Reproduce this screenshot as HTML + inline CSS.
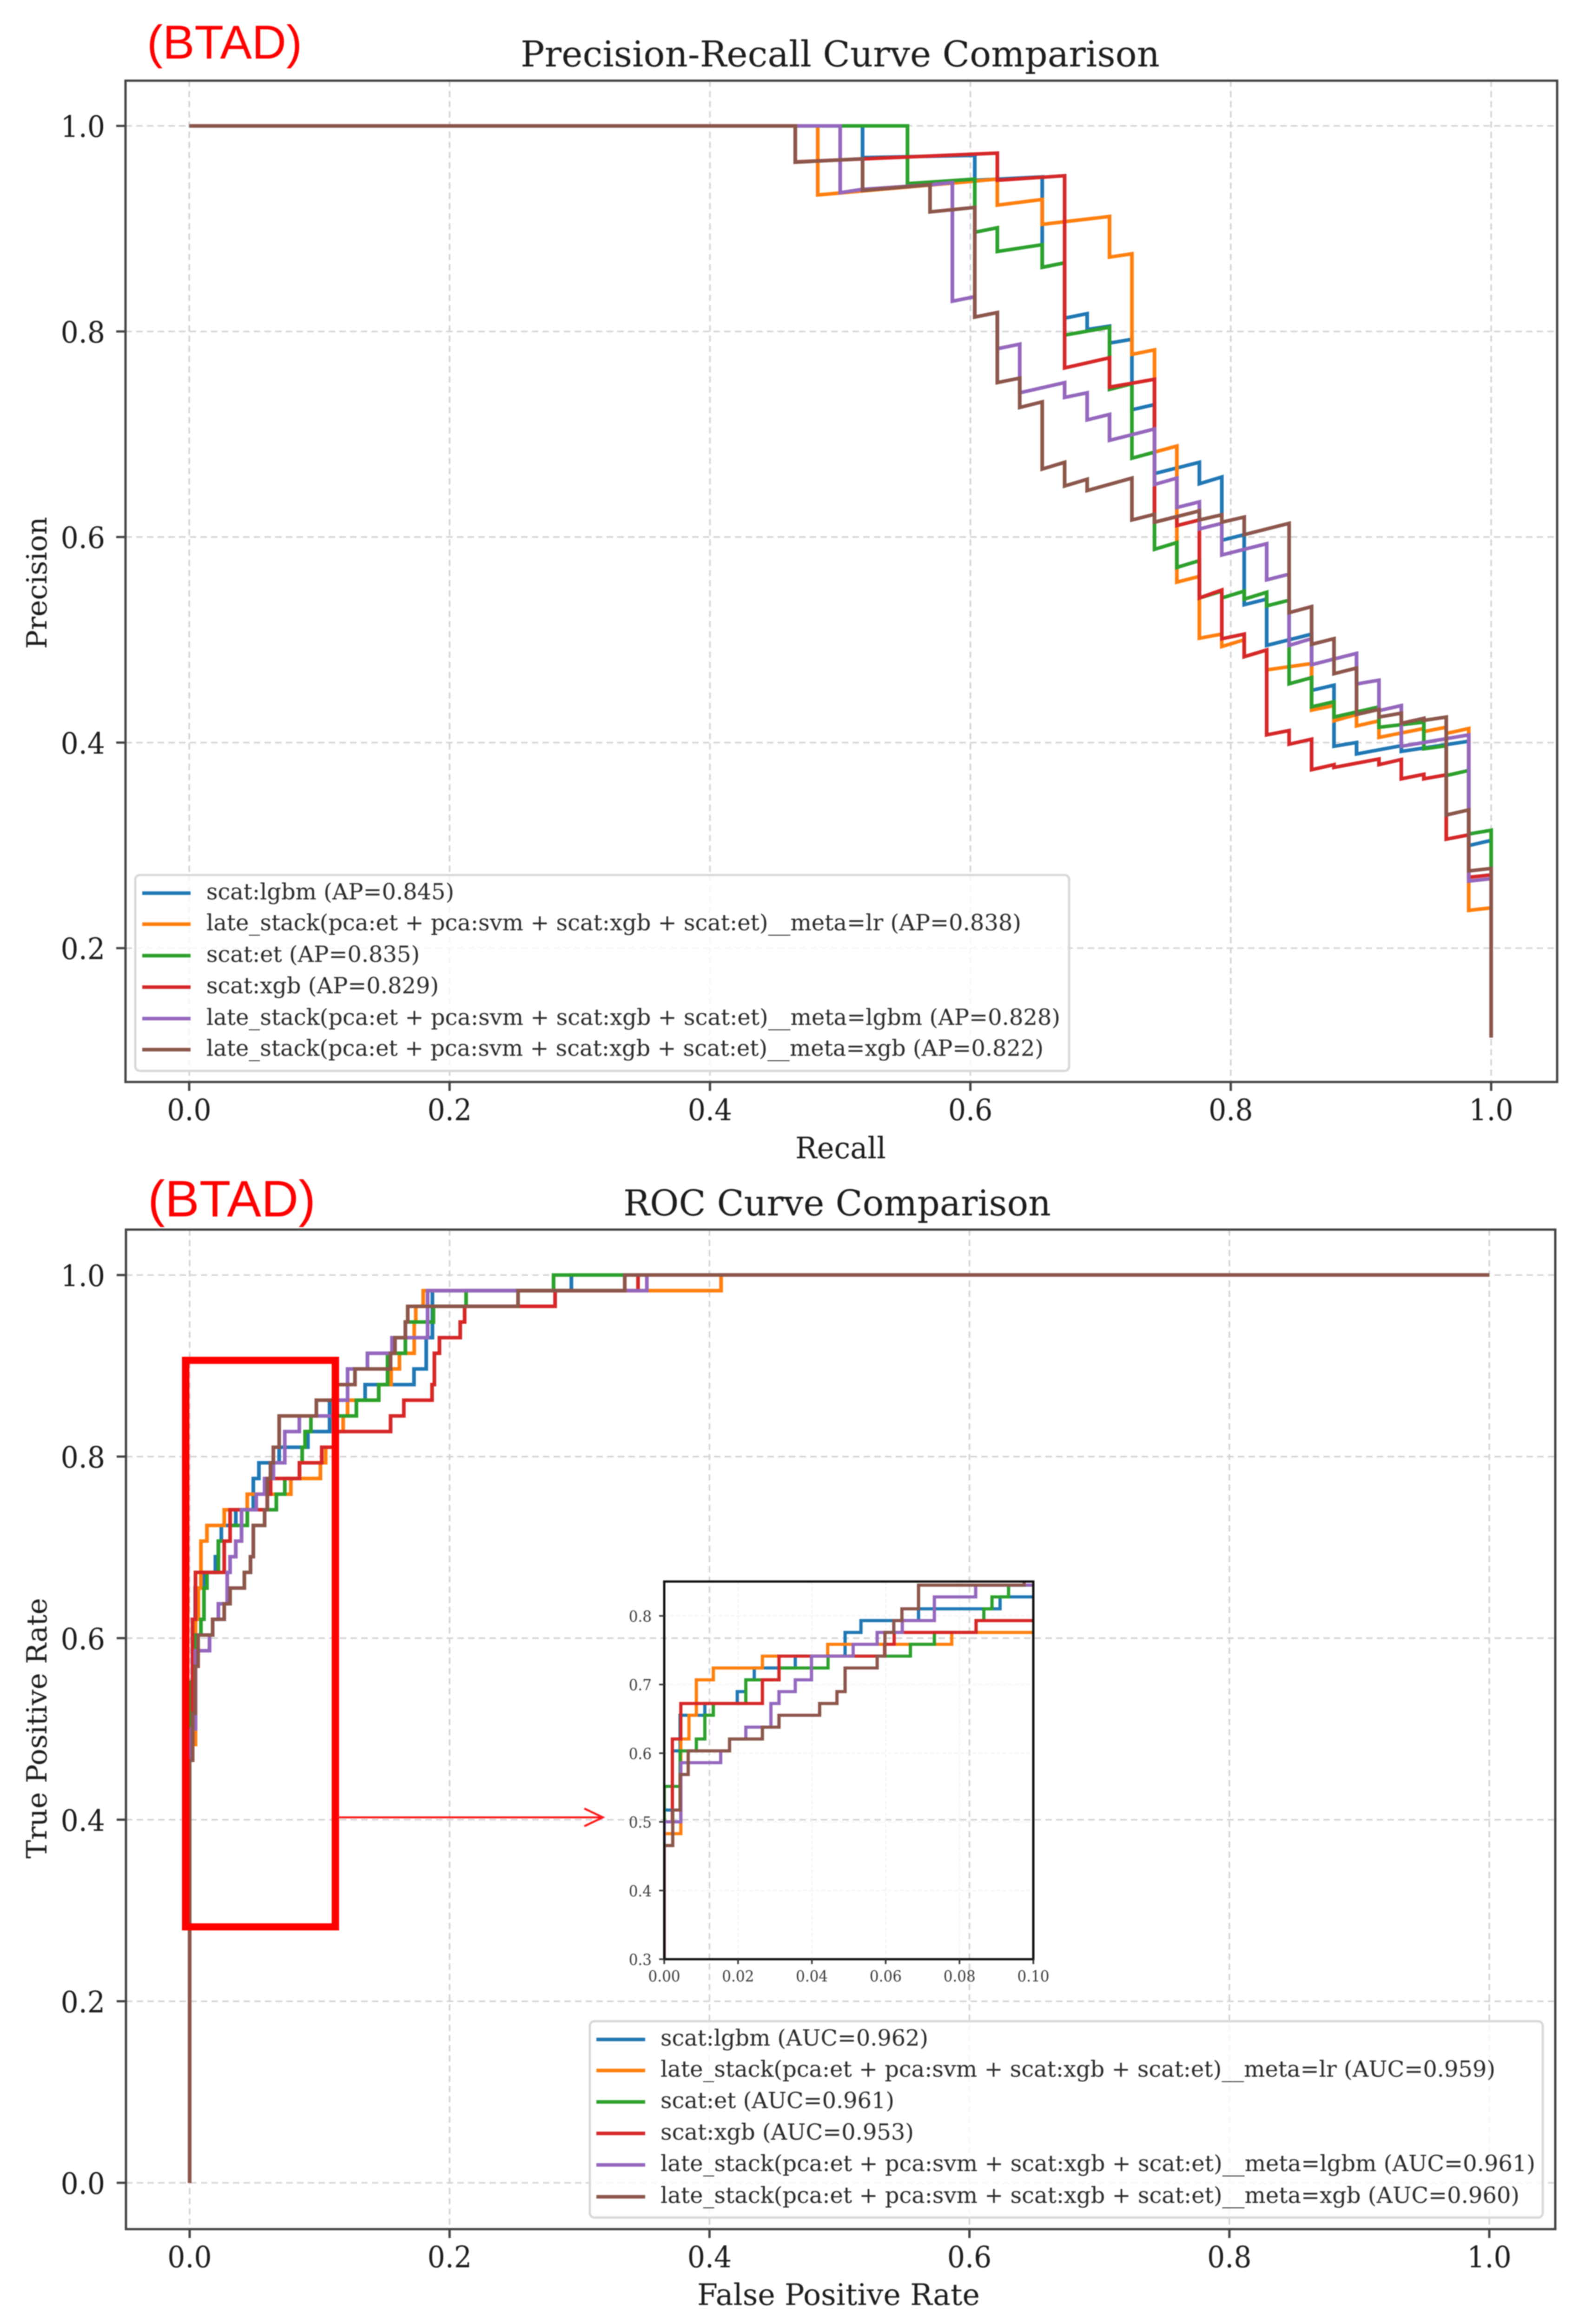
<!DOCTYPE html>
<html lang="en">
<head>
<meta charset="utf-8">
<title>BTAD Precision-Recall and ROC Curve Comparison</title>
<style>
html,body{margin:0;padding:0;background:#fff;width:100vw;height:100vh;overflow:hidden;}
#frame{position:relative;width:100vw;height:100vh;overflow:hidden;contain:paint;}
svg{display:block;position:absolute;left:0;top:0;width:100%;height:100%;overflow:hidden;}
#content{filter:blur(1.1px);}
.serif{font-family:"DejaVu Serif","Liberation Serif",serif;fill:#1c1c1c;}
.leg{font-size:45px;fill:#2a2a2a;}
.ttl{font-size:72px;}
.axl{font-size:60px;}
.btad{font-family:"Liberation Sans",Arial,sans-serif;fill:#ff0000;}
</style>
</head>
<body>
<div id="frame">
<svg id="figure" xmlns="http://www.w3.org/2000/svg" viewBox="0 0 3397 5243" preserveAspectRatio="none">
  <rect x="0" y="0" width="3397" height="5243" fill="#ffffff"/>
  <defs>
    <clipPath id="prClip"><rect x="270" y="182" width="3080" height="2259"/></clipPath>
    <clipPath id="rocClip"><rect x="271" y="2774" width="3075" height="2255"/></clipPath>
    <clipPath id="insetClip"><rect x="1429" y="3568" width="794" height="852"/></clipPath>
  </defs>
  <g id="content">

  <!-- Precision-Recall panel -->
  <text class="btad" font-size="100" textLength="334" lengthAdjust="spacingAndGlyphs" transform="translate(316 132) scale(1 1.07)">(BTAD)</text>
  <text class="serif ttl" textLength="1375" lengthAdjust="spacingAndGlyphs" transform="translate(1120 150) scale(1 1.12)">Precision-Recall Curve Comparison</text>
  <g id="prGrid"></g>
  <g id="prLines" clip-path="url(#prClip)"></g>
  <g>
    <rect x="291" y="1974" width="2009" height="442" rx="10" fill="#ffffff" fill-opacity="0.8" stroke="#d8d8d8" stroke-width="5"/>
    <g><line x1="306" x2="410" y1="2015" y2="2015" stroke="#1f77b4" stroke-width="8"/><text class="serif leg" textLength="533" lengthAdjust="spacingAndGlyphs" transform="translate(444 2029) scale(1 1.12)">scat:lgbm (AP=0.845)</text></g>
    <g><line x1="306" x2="410" y1="2085" y2="2085" stroke="#ff7f0e" stroke-width="8"/><text class="serif leg" textLength="1753" lengthAdjust="spacingAndGlyphs" transform="translate(444 2099) scale(1 1.12)">late_stack(pca:et + pca:svm + scat:xgb + scat:et)__meta=lr (AP=0.838)</text></g>
    <g><line x1="306" x2="410" y1="2156" y2="2156" stroke="#2ca02c" stroke-width="8"/><text class="serif leg" textLength="459" lengthAdjust="spacingAndGlyphs" transform="translate(444 2170) scale(1 1.12)">scat:et (AP=0.835)</text></g>
    <g><line x1="306" x2="410" y1="2227" y2="2227" stroke="#d62728" stroke-width="8"/><text class="serif leg" textLength="500" lengthAdjust="spacingAndGlyphs" transform="translate(444 2241) scale(1 1.12)">scat:xgb (AP=0.829)</text></g>
    <g><line x1="306" x2="410" y1="2298" y2="2298" stroke="#9467bd" stroke-width="8"/><text class="serif leg" textLength="1837" lengthAdjust="spacingAndGlyphs" transform="translate(444 2312) scale(1 1.12)">late_stack(pca:et + pca:svm + scat:xgb + scat:et)__meta=lgbm (AP=0.828)</text></g>
    <g><line x1="306" x2="410" y1="2368" y2="2368" stroke="#8c564b" stroke-width="8"/><text class="serif leg" textLength="1801" lengthAdjust="spacingAndGlyphs" transform="translate(444 2382) scale(1 1.12)">late_stack(pca:et + pca:svm + scat:xgb + scat:et)__meta=xgb (AP=0.822)</text></g>
  </g>
  <rect x="270" y="182" width="3080" height="2259" fill="none" stroke="#444444" stroke-width="5"/>
  <g id="prTicks"></g>
  <text class="serif axl" textLength="195" lengthAdjust="spacingAndGlyphs" transform="translate(1711 2613) scale(1 1.12)">Recall</text>
  <text class="serif axl" textLength="298" lengthAdjust="spacingAndGlyphs" transform="translate(100 1464) rotate(-90)">Precision</text>

  <!-- ROC panel -->
  <text class="btad" font-size="108" textLength="361" lengthAdjust="spacingAndGlyphs" transform="translate(318 2744) scale(1 1.07)">(BTAD)</text>
  <text class="serif ttl" textLength="920" lengthAdjust="spacingAndGlyphs" transform="translate(1341 2742) scale(1 1.12)">ROC Curve Comparison</text>
  <g id="rocGrid"></g>
  <g id="rocLines" clip-path="url(#rocClip)"></g>
  <rect x="399.5" y="3069" width="322" height="1278" fill="none" stroke="#ff0000" stroke-width="16"/>
  <g>
    <line x1="726" y1="4100" x2="1297" y2="4100" stroke="#ff1a1a" stroke-width="4.5"/>
    <polyline points="1257,4080 1297,4100 1257,4120" fill="none" stroke="#ff1a1a" stroke-width="4.5"/>
  </g>
  <g id="insetGrid"></g>
  <g id="insetLines" clip-path="url(#insetClip)"></g>
  <rect x="1429" y="3568" width="794" height="852" fill="none" stroke="#111111" stroke-width="5"/>
  <g id="insetTicks"></g>
  <g>
    <rect x="1269" y="4560" width="2050" height="443" rx="10" fill="#ffffff" fill-opacity="0.8" stroke="#d8d8d8" stroke-width="5"/>
    <g><line x1="1283" x2="1388" y1="4601" y2="4601" stroke="#1f77b4" stroke-width="8"/><text class="serif leg" textLength="576" lengthAdjust="spacingAndGlyphs" transform="translate(1421 4615) scale(1 1.12)">scat:lgbm (AUC=0.962)</text></g>
    <g><line x1="1283" x2="1388" y1="4671" y2="4671" stroke="#ff7f0e" stroke-width="8"/><text class="serif leg" textLength="1796" lengthAdjust="spacingAndGlyphs" transform="translate(1421 4685) scale(1 1.12)">late_stack(pca:et + pca:svm + scat:xgb + scat:et)__meta=lr (AUC=0.959)</text></g>
    <g><line x1="1283" x2="1388" y1="4742" y2="4742" stroke="#2ca02c" stroke-width="8"/><text class="serif leg" textLength="503" lengthAdjust="spacingAndGlyphs" transform="translate(1421 4756) scale(1 1.12)">scat:et (AUC=0.961)</text></g>
    <g><line x1="1283" x2="1388" y1="4813" y2="4813" stroke="#d62728" stroke-width="8"/><text class="serif leg" textLength="545" lengthAdjust="spacingAndGlyphs" transform="translate(1421 4827) scale(1 1.12)">scat:xgb (AUC=0.953)</text></g>
    <g><line x1="1283" x2="1388" y1="4884" y2="4884" stroke="#9467bd" stroke-width="8"/><text class="serif leg" textLength="1882" lengthAdjust="spacingAndGlyphs" transform="translate(1421 4898) scale(1 1.12)">late_stack(pca:et + pca:svm + scat:xgb + scat:et)__meta=lgbm (AUC=0.961)</text></g>
    <g><line x1="1283" x2="1388" y1="4956" y2="4956" stroke="#8c564b" stroke-width="8"/><text class="serif leg" textLength="1848" lengthAdjust="spacingAndGlyphs" transform="translate(1421 4970) scale(1 1.12)">late_stack(pca:et + pca:svm + scat:xgb + scat:et)__meta=xgb (AUC=0.960)</text></g>
  </g>
  <rect x="271" y="2774" width="3075" height="2255" fill="none" stroke="#444444" stroke-width="5"/>
  <g id="rocTicks"></g>
  <text class="serif axl" textLength="608" lengthAdjust="spacingAndGlyphs" transform="translate(1500 5200) scale(1 1.12)">False Positive Rate</text>
  <text class="serif axl" textLength="588" lengthAdjust="spacingAndGlyphs" transform="translate(100 4193) rotate(-90)">True Positive Rate</text>
  </g>
</svg>
</div>

<script>
// ---------- Tick values and labels ----------
const unitTicks = [0, 0.2, 0.4, 0.6, 0.8, 1];
const unitTickLabels = ['0.0', '0.2', '0.4', '0.6', '0.8', '1.0'];
const prYTicks = [0.2, 0.4, 0.6, 0.8, 1];
const prYTickLabels = ['0.2', '0.4', '0.6', '0.8', '1.0'];
const insetXTicks = [0, 0.02, 0.04, 0.06, 0.08, 0.1];
const insetXTickLabels = ['0.00', '0.02', '0.04', '0.06', '0.08', '0.10'];
const insetYTicks = [0.3, 0.4, 0.5, 0.6, 0.7, 0.8];
const insetYTickLabels = ['0.3', '0.4', '0.5', '0.6', '0.7', '0.8'];

// ---------- Precision-Recall curves: [recall, precision] ----------
const prLgbm = [[0,1],[.5172,1],[.5172,.9691],[.6034,.9713],[.6034,.9471],[.6552,.9504],[.6552,.8624],[.6724,.8668],[.6724,.8129],[.6897,.8173],[.6897,.8019],[.7069,.8052],[.7069,.7887],[.7241,.7924],[.7241,.7238],[.7414,.7288],[.7414,.6617],[.7759,.6727],[.7759,.6518],[.7931,.6584],[.7931,.5968],[.8103,.6023],[.8103,.5341],[.8276,.5396],[.8276,.4945],[.8621,.5055],[.8621,.4508],[.8793,.4558],[.8793,.3964],[.8966,.4001],[.8966,.3889],[.931,.3969],[.931,.3914],[.9828,.4013],[.9828,.2998],[1,.3048],[1,.1129]];
const prLateLr = [[0,1],[.4828,1],[.4828,.9328],[.6207,.9482],[.6207,.9229],[.6552,.9284],[.6552,.9042],[.7069,.9119],[.7069,.8723],[.7241,.8756],[.7241,.7777],[.7414,.7821],[.7414,.6826],[.7586,.6885],[.7586,.5561],[.7759,.5616],[.7759,.5015],[.7931,.5055],[.7931,.4934],[.8103,.5],[.8103,.4835],[.8276,.49],[.8276,.4707],[.8621,.4769],[.8621,.4315],[.8793,.436],[.8793,.4211],[.8966,.4273],[.8966,.4162],[.9138,.4211],[.9138,.405],[.9483,.4137],[.9483,.4107],[.9655,.4149],[.9655,.4088],[.9828,.4137],[.9828,.2367],[1,.2392],[1,.1129]];
const prEt = [[0,1],[.5517,1],[.5517,.9438],[.6034,.9482],[.6034,.8965],[.6207,.9009],[.6207,.8778],[.6552,.8844],[.6552,.8624],[.6724,.8668],[.6724,.7964],[.7069,.8041],[.7069,.7436],[.7241,.7491],[.7241,.6767],[.7414,.6826],[.7414,.588],[.7586,.5946],[.7586,.5704],[.7759,.577],[.7759,.5407],[.7931,.5473],[.7931,.5407],[.8103,.5473],[.8103,.5396],[.8276,.5462],[.8276,.533],[.8448,.5385],[.8448,.4571],[.8621,.4632],[.8621,.4348],[.8793,.4397],[.8793,.4248],[.9138,.4347],[.9138,.4149],[.9483,.4199],[.9483,.3939],[.9655,.3969],[.9655,.3679],[.9828,.3729],[.9828,.311],[1,.3147],[1,.1129]];
const prXgb = [[0,1],[.4655,1],[.4655,.965],[.6207,.9735],[.6207,.9471],[.6724,.9515],[.6724,.7645],[.7069,.7744],[.7069,.7458],[.7414,.7535],[.7414,.6144],[.7586,.6199],[.7586,.6111],[.7759,.6166],[.7759,.5407],[.7931,.5484],[.7931,.501],[.8103,.5055],[.8103,.4835],[.8276,.4901],[.8276,.4075],[.8448,.4117],[.8448,.3984],[.8621,.4033],[.8621,.3736],[.8793,.3785],[.8793,.3758],[.9138,.384],[.9138,.3785],[.931,.3835],[.931,.3647],[.9483,.3691],[.9483,.3647],[.9655,.3686],[.9655,.306],[.9828,.3102],[.9828,.2689],[1,.2713],[1,.1129]];
const prLateLgbm = [[0,1],[.5,1],[.5,.935],[.5172,.9383],[.569,.9427],[.5862,.9449],[.5862,.8294],[.6034,.8338],[.6034,.814],[.6207,.8184],[.6207,.7832],[.6379,.7876],[.6379,.7403],[.6724,.7502],[.6724,.7358],[.6897,.7403],[.6897,.7139],[.7069,.7193],[.7069,.694],[.7414,.7051],[.7414,.6511],[.7586,.6573],[.7586,.6287],[.7759,.6342],[.7759,.6078],[.7931,.6133],[.7931,.5825],[.8276,.5935],[.8276,.5583],[.8448,.5638],[.8448,.4945],[.8621,.5011],[.8621,.4758],[.8966,.4868],[.8966,.457],[.9138,.4607],[.9138,.431],[.931,.436],[.931,.3964],[.9828,.4075],[.9828,.2652],[1,.2676],[1,.1129]];
const prLateXgb = [[0,1],[.4655,1],[.4655,.9647],[.5172,.968],[.5172,.9372],[.569,.9427],[.569,.9163],[.6034,.9207],[.6034,.814],[.6207,.8184],[.6207,.7502],[.6379,.7546],[.6379,.726],[.6552,.7315],[.6552,.6661],[.6724,.6727],[.6724,.6496],[.6897,.6562],[.6897,.6452],[.7241,.6573],[.7241,.6166],[.7414,.6221],[.7414,.6144],[.7759,.6254],[.7759,.6166],[.7931,.6216],[.7931,.6144],[.8103,.6194],[.8103,.6023],[.8448,.6133],[.8448,.5264],[.8621,.5323],[.8621,.4956],[.8793,.5011],[.8793,.467],[.8966,.4725],[.8966,.4273],[.9138,.4323],[.9138,.4248],[.931,.4286],[.931,.4187],[.9483,.4236],[.9483,.4216],[.9655,.4248],[.9655,.3295],[.9828,.3345],[.9828,.2751],[1,.2775],[1,.1129]];

// ---------- ROC curves: [fpr at which TPR rises, new TPR] ----------
const rocLgbm = [[0,.5172],[.0022,.6034],[.0043,.6552],[.011,.6724],[.0198,.6897],[.0221,.7069],[.0244,.7241],[.0355,.7414],[.049,.7759],[.0533,.7931],[.0689,.8103],[.091,.8276],[.1077,.8621],[.135,.8793],[.1726,.8966],[.182,.931],[.1868,.9828],[.2937,1]];
const rocLateLr = [[0,.4828],[.0045,.6207],[.0067,.6552],[.0087,.7069],[.0133,.7241],[.0266,.7414],[.0443,.7586],[.0779,.7759],[.1006,.7931],[.1047,.8103],[.1135,.8276],[.1181,.8448],[.1215,.8621],[.1455,.8793],[.155,.8966],[.1614,.9138],[.1728,.9483],[.174,.9655],[.1797,.9828],[.4089,1]];
const rocEt = [[0,.5517],[.0043,.6034],[.0087,.6207],[.011,.6552],[.0133,.6724],[.0221,.7069],[.0311,.7241],[.0444,.7414],[.0667,.7586],[.0732,.7759],[.0845,.7931],[.0866,.8103],[.0888,.8276],[.0933,.8448],[.1283,.8621],[.1455,.8793],[.1523,.9138],[.166,.9483],[.1876,.9655],[.2127,.9828],[.28,1]];
const rocXgb = [[0,.5],[.0022,.6207],[.0045,.6724],[.0266,.7069],[.0311,.7414],[.0597,.7586],[.0623,.7759],[.0845,.7931],[.1016,.8103],[.1135,.8276],[.1546,.8448],[.1648,.8621],[.1865,.8793],[.1883,.9138],[.1922,.931],[.2082,.9483],[.2116,.9655],[.2812,.9828],[.345,1]];
const rocLateLgbm = [[0,.5],[.0045,.5862],[.0153,.6034],[.0177,.6207],[.0221,.6379],[.0289,.6724],[.0311,.6897],[.0355,.7069],[.0399,.7414],[.0512,.7586],[.0577,.7759],[.0645,.7931],[.0732,.8276],[.0844,.8448],[.1135,.8621],[.1215,.8966],[.1368,.9138],[.1557,.931],[.1831,.9828],[.3518,1]];
const rocLateXgb = [[0,.4655],[.0023,.5172],[.0043,.569],[.0065,.6034],[.0177,.6207],[.0266,.6379],[.0311,.6552],[.0421,.6724],[.0468,.6897],[.049,.7241],[.0577,.7414],[.0598,.7759],[.0622,.7931],[.0644,.8103],[.0689,.8448],[.0975,.8621],[.1118,.8793],[.1272,.8966],[.1546,.9138],[.158,.931],[.166,.9483],[.1678,.9655],[.2527,.9828],[.3348,1]];

// ---------- Axis functions ----------
const prX = v => 407 + 2801 * v;
const prY = v => 284 + (1 - v) * 2318.75;
const rocX = v => 408 + 2796 * v;
const rocY = v => 2876.5 + (1 - v) * 2048;
const insetX = v => 1429 + 7940 * v;
const insetY = v => 3568 + (0.85 - v) * 1549;

const SVG_NS = 'http://www.w3.org/2000/svg';
const seriesColors = ['#1f77b4', '#ff7f0e', '#2ca02c', '#d62728', '#9467bd', '#8c564b'];
const seriesKeys = ['scat-lgbm', 'late-stack-lr', 'scat-et', 'scat-xgb', 'late-stack-lgbm', 'late-stack-xgb'];
const prSeries = [prLgbm, prLateLr, prEt, prXgb, prLateLgbm, prLateXgb];
const rocSeries = [rocLgbm, rocLateLr, rocEt, rocXgb, rocLateLgbm, rocLateXgb];

function stepPoints(rises) {
  const pts = [[0, 0]];
  let level = 0;
  rises.forEach(function (r) {
    pts.push([r[0], level]);
    pts.push([r[0], r[1]]);
    level = r[1];
  });
  pts.push([1, level]);
  return pts;
}

function drawLine(parent, pts, xf, yf, color, name, width) {
  const el = document.createElementNS(SVG_NS, 'polyline');
  
  
  el.setAttribute('points', pts.map(p => xf(p[0]).toFixed(1) + ',' + yf(p[1]).toFixed(1)).join(' '));
  el.setAttribute('fill', 'none');
  el.setAttribute('stroke', color);
  el.setAttribute('stroke-width', width);
  el.setAttribute('stroke-linejoin', 'miter');
  parent.appendChild(el);
}

function drawSeg(parent, x1, y1, x2, y2, color, width, dash, name) {
  const el = document.createElementNS(SVG_NS, 'line');
  
  
  el.setAttribute('x1', x1);
  el.setAttribute('y1', y1);
  el.setAttribute('x2', x2);
  el.setAttribute('y2', y2);
  el.setAttribute('stroke', color);
  el.setAttribute('stroke-width', width);
  if (dash) el.setAttribute('stroke-dasharray', dash);
  parent.appendChild(el);
}

function drawLabel(parent, x, y, label, size, anchor, color, name) {
  const el = document.createElementNS(SVG_NS, 'text');
  
  
  el.setAttribute('class', 'serif');
  el.setAttribute('font-size', size);
  el.setAttribute('text-anchor', anchor);
  el.setAttribute('style', 'fill:' + color);
  el.setAttribute('transform', 'translate(' + x + ' ' + y + ') scale(1 1.12)');
  el.textContent = label;
  parent.appendChild(el);
}

function drawAxes(gridEl, tickEl, cfg) {
  cfg.xTicks.forEach(function (t, i) {
    const x = cfg.xf(t);
    drawSeg(gridEl, x, cfg.top, x, cfg.bottom, cfg.gridColor, cfg.gridWidth, cfg.gridDash, cfg.prefix + '-grid-x');
    drawSeg(tickEl, x, cfg.bottom, x, cfg.bottom + cfg.tickLen, cfg.tickColor, cfg.tickWidth, null, cfg.prefix + '-tick-x');
    drawLabel(tickEl, x, cfg.bottom + cfg.xLabelOffset, cfg.xLabels[i], cfg.fontSize, 'middle', cfg.labelColor, cfg.prefix + '-tick-label-x');
  });
  cfg.yTicks.forEach(function (t, i) {
    const y = cfg.yf(t);
    drawSeg(gridEl, cfg.left, y, cfg.right, y, cfg.gridColor, cfg.gridWidth, cfg.gridDash, cfg.prefix + '-grid-y');
    drawSeg(tickEl, cfg.left - cfg.tickLen, y, cfg.left, y, cfg.tickColor, cfg.tickWidth, null, cfg.prefix + '-tick-y');
    drawLabel(tickEl, cfg.left + cfg.yLabelOffset, y + cfg.yBaseline, cfg.yLabels[i], cfg.fontSize, 'end', cfg.labelColor, cfg.prefix + '-tick-label-y');
  });
}

drawAxes(document.getElementById('prGrid'), document.getElementById('prTicks'), {
  prefix: 'pr', xf: prX, yf: prY, xTicks: unitTicks, xLabels: unitTickLabels, yTicks: prYTicks, yLabels: prYTickLabels,
  left: 270, right: 3350, top: 182, bottom: 2441, tickLen: 20, tickWidth: 5, tickColor: '#444444',
  gridColor: '#d4d4d4', gridWidth: 3.5, gridDash: '14 9', fontSize: 60, labelColor: '#1c1c1c',
  xLabelOffset: 86, yLabelOffset: -44, yBaseline: 25
});
drawAxes(document.getElementById('rocGrid'), document.getElementById('rocTicks'), {
  prefix: 'roc', xf: rocX, yf: rocY, xTicks: unitTicks, xLabels: unitTickLabels, yTicks: unitTicks, yLabels: unitTickLabels,
  left: 271, right: 3346, top: 2774, bottom: 5029, tickLen: 20, tickWidth: 5, tickColor: '#444444',
  gridColor: '#d4d4d4', gridWidth: 3.5, gridDash: '14 9', fontSize: 60, labelColor: '#1c1c1c',
  xLabelOffset: 86, yLabelOffset: -45, yBaseline: 25
});
drawAxes(document.getElementById('insetGrid'), document.getElementById('insetTicks'), {
  prefix: 'inset', xf: insetX, yf: insetY, xTicks: insetXTicks, xLabels: insetXTickLabels, yTicks: insetYTicks, yLabels: insetYTickLabels,
  left: 1429, right: 2223, top: 3568, bottom: 4420, tickLen: 11, tickWidth: 3.5, tickColor: '#333333',
  gridColor: '#f1f1f1', gridWidth: 2, gridDash: '8 5', fontSize: 31, labelColor: '#3a3a3a',
  xLabelOffset: 50, yLabelOffset: -27, yBaseline: 13
});

const prLinesEl = document.getElementById('prLines');
const rocLinesEl = document.getElementById('rocLines');
const insetLinesEl = document.getElementById('insetLines');
prSeries.forEach(function (s, i) {
  drawLine(prLinesEl, s, prX, prY, seriesColors[i], 'pr-line-' + seriesKeys[i], 8);
});
rocSeries.forEach(function (s, i) {
  const pts = stepPoints(s);
  drawLine(rocLinesEl, pts, rocX, rocY, seriesColors[i], 'roc-line-' + seriesKeys[i], 8);
  drawLine(insetLinesEl, pts, insetX, insetY, seriesColors[i], 'inset-line-' + seriesKeys[i], 7);
});
</script>
</body>
</html>
